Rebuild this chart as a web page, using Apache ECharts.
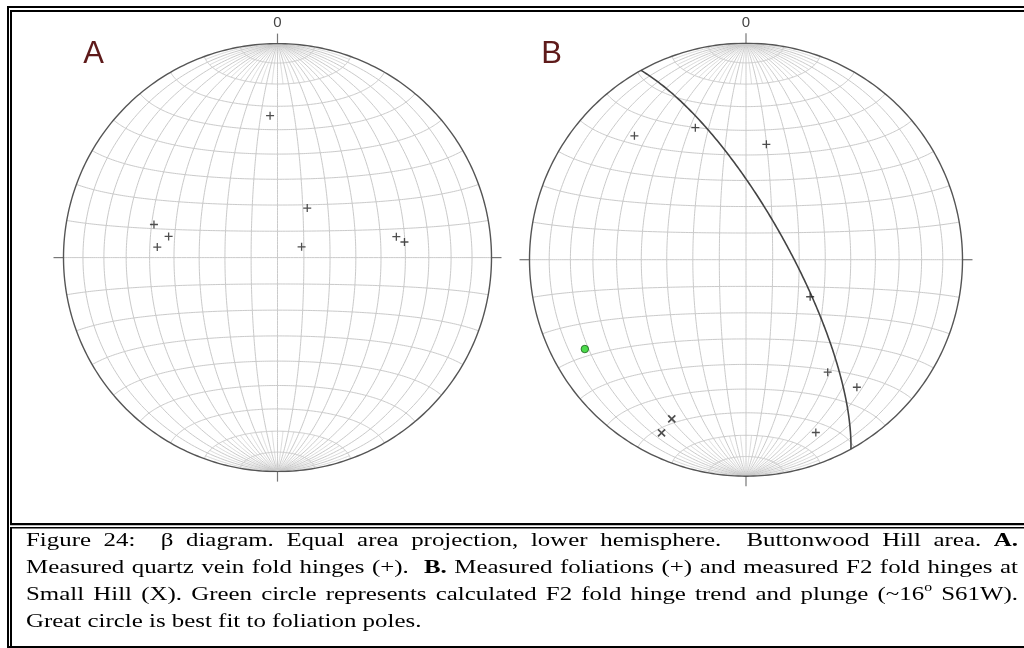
<!DOCTYPE html>
<html><head><meta charset="utf-8">
<script src="https://cdn.jsdelivr.net/npm/echarts@6/dist/echarts.min.js"></script>
<style>html,body{margin:0;padding:0;background:#fff}#c{width:1024px;height:648px}</style>
</head><body><div id="c"></div>
<script>
// ---- DATA (trend, plunge in degrees; lower hemisphere) ----
const hingesA = [[357,34],[31,68],[285,40],[281,47],[275,43],[66,80],[80,43],[83,40]];
const foliationPolesB = [[318,24],[339,35],[10,45],[120,62],[144,36],[139,23],[158,15]];
const smallHillHingesB = [[205,20],[206,12]];
const calcHingeB = [[241,16]];          // ~16° S61W
const northLabels = ['0','0'];
const panelLabels = ['A','B'];
const captionLines = [
  {j:true,  runs:[['Figure 24:  \u03b2 diagram. Equal area projection, lower hemisphere.  Buttonwood Hill area. ',0],['A.',1]]},
  {j:true,  runs:[['Measured quartz vein fold hinges (+).  ',0],['B.',1],[' Measured foliations (+) and measured F2 fold hinges at',0]]},
  {j:true,  runs:[['Small Hill (X). Green circle represents calculated F2 fold hinge trend and plunge (~16',0],['o',2],[' S61W).',0]]},
  {j:false, runs:[['Great circle is best fit to foliation poles.',0]]}
];

// ---- projection helpers (equal area, lower hemisphere) ----
const RAD = Math.PI/180;
function proj(tr, pl){
  const t=tr*RAD, p=pl*RAD;
  const E=Math.cos(p)*Math.sin(t), N=Math.cos(p)*Math.cos(t), D=Math.sin(p);
  const k=1/Math.sqrt(1+D); return [E*k, N*k];
}
function netPoint(lam, phi){
  const l=lam*RAD, f=phi*RAD;
  const X=Math.cos(f)*Math.sin(l), Y=Math.sin(f), Z=Math.cos(f)*Math.cos(l);
  const k=1/Math.sqrt(1+Z); return [X*k, Y*k];
}
function buildNet(){
  const L=[];
  for(let lam=-80; lam<=80; lam+=10){ const c=[]; for(let phi=-90; phi<=90; phi+=1) c.push(netPoint(lam,phi)); L.push(c); }
  for(let phi=-80; phi<=80; phi+=10){ const c=[]; for(let lam=-90; lam<=90; lam+=1) c.push(netPoint(lam,phi)); L.push(c); }
  return L;
}
function buildFan(){
  const L=[];
  for(let lam=-85; lam<=85; lam+=5){ if(lam%10===0) continue;
    const a=[], b=[]; for(let phi=70; phi<=90; phi+=0.5){ a.push(netPoint(lam,phi)); b.push(netPoint(lam,-phi)); } L.push(a); L.push(b); }
  return L;
}
function circle(){ const c=[]; for(let a=0;a<=360;a+=1) c.push([Math.cos(a*RAD), Math.sin(a*RAD)]); return c; }
function planeFromPole(tr,pl){ return [(tr+180)%360, 90-pl]; }
function planeCurve(dd, dip){
  const s=(dd-90)*RAD, d=dd*RAD, di=dip*RAD;
  const sv=[Math.sin(s),Math.cos(s),0], dv=[Math.cos(di)*Math.sin(d),Math.cos(di)*Math.cos(d),Math.sin(di)];
  const pts=[];
  for(let th=0; th<=180; th+=1){
    const c=Math.cos(th*RAD), sn=Math.sin(th*RAD);
    const v=[sv[0]*c+dv[0]*sn, sv[1]*c+dv[1]*sn, Math.max(0,sv[2]*c+dv[2]*sn)];
    const k=1/Math.sqrt(1+v[2]); pts.push([v[0]*k, v[1]*k]);
  }
  return pts;
}

const panels = [{cx:277.5, cy:257.6, R:214},{cx:746, cy:259.7, R:216.5}];
const net = buildNet();
const fan = buildFan();
const PLUS = 'path://M3.9,0h1.5v9.3h-1.5zM0,3.9h9.3v1.5h-9.3z';

const series = [];
panels.forEach((p,i)=>{
  series.push({type:'lines', coordinateSystem:'cartesian2d', xAxisIndex:i, yAxisIndex:i, polyline:true, silent:true, animation:false,
    lineStyle:{color:'#d2d2d2', width:0.8, opacity:1}, data: fan.map(c=>({coords:c})), z:1});
  series.push({type:'lines', coordinateSystem:'cartesian2d', xAxisIndex:i, yAxisIndex:i, polyline:true, silent:true, animation:false,
    lineStyle:{color:'#cacaca', width:1, opacity:1}, data: net.map(c=>({coords:c})), z:2});
  const t = 10/p.R;
  series.push({type:'lines', coordinateSystem:'cartesian2d', xAxisIndex:i, yAxisIndex:i, polyline:true, silent:true, animation:false, clip:false,
    lineStyle:{color:'#777', width:1.2, opacity:1},
    data:[{coords:[[0,1],[0,1+t]]},{coords:[[0,-1],[0,-1-t]]},{coords:[[-1,0],[-1-t,0]]},{coords:[[1,0],[1+t,0]]}], z:3});
  series.push({type:'lines', coordinateSystem:'cartesian2d', xAxisIndex:i, yAxisIndex:i, polyline:true, silent:true, animation:false,
    lineStyle:{color:'#555', width:1.4, opacity:1}, data:[{coords:circle()}], z:3});
});
series.push({type:'scatter', xAxisIndex:0, yAxisIndex:0, symbol:PLUS, symbolSize:8, itemStyle:{color:'#222'},
  data: hingesA.map(d=>proj(d[0],d[1])), z:5, animation:false});
const plane = planeFromPole(calcHingeB[0][0], calcHingeB[0][1]);
series.push({type:'lines', coordinateSystem:'cartesian2d', xAxisIndex:1, yAxisIndex:1, polyline:true, silent:true, animation:false,
  lineStyle:{color:'#444', width:1.6, opacity:1}, data:[{coords:planeCurve(plane[0],plane[1])}], z:4});
series.push({type:'scatter', xAxisIndex:1, yAxisIndex:1, symbol:PLUS, symbolSize:8, itemStyle:{color:'#222'},
  data: foliationPolesB.map(d=>proj(d[0],d[1])), z:5, animation:false});
series.push({type:'scatter', xAxisIndex:1, yAxisIndex:1, symbol:PLUS, symbolSize:10, symbolRotate:45, itemStyle:{color:'#222'},
  data: smallHillHingesB.map(d=>proj(d[0],d[1])), z:5, animation:false});
series.push({type:'scatter', xAxisIndex:1, yAxisIndex:1, symbol:'circle', symbolSize:7.5, itemStyle:{color:'#1fd21f', borderColor:'#1c5e1c', borderWidth:1},
  data: calcHingeB.map(d=>proj(d[0],d[1])), z:6, animation:false});

// ---- graphics: frame, labels, caption ----
const G = [];
function rect(x,y,w,h){ G.push({type:'rect', shape:{x:x,y:y,width:w,height:h}, style:{fill:'#000'}, silent:true}); }
rect(7,6,1017,2); rect(10,10,1014,2);
rect(7,6,2,642); rect(10,10,2,515);
rect(10,523,1014,2.3); rect(10,527,1014,1.6);
rect(10,527,2,121); rect(7,646,1017,2);

panels.forEach((p,i)=>{
  G.push({type:'text', x:p.cx, y:p.cy-p.R-20.5, style:{text:northLabels[i], font:'15px "Liberation Sans", Arial, sans-serif', fill:'#444', align:'center', verticalAlign:'middle'}});
});
G.push({type:'text', x:93.5, y:54, style:{text:panelLabels[0], font:'31px "Liberation Sans", Arial, sans-serif', fill:'#5e1a1a', align:'center', verticalAlign:'middle'}});
G.push({type:'text', x:551.7, y:54, style:{text:panelLabels[1], font:'31px "Liberation Sans", Arial, sans-serif', fill:'#5e1a1a', align:'center', verticalAlign:'middle'}});

const FS=19, SX=1.31, X0=26, X1=1018, BASE0=547, LH=27.2;
const FAM='"Liberation Serif","Times New Roman",serif';
const fonts=[FS+'px '+FAM, 'bold '+FS+'px '+FAM, '12px '+FAM];
const cv=document.createElement('canvas').getContext('2d');
function mw(t,f){ cv.font=f; return cv.measureText(t).width; }
captionLines.forEach((ln,li)=>{
  const items=[];
  ln.runs.forEach(r=>{
    let buf='';
    for(const ch of r[0]){
      if(ch===' '){ if(buf){items.push({t:buf,s:r[1]}); buf='';} items.push({sp:true}); }
      else buf+=ch;
    }
    if(buf) items.push({t:buf,s:r[1]});
  });
  let wsum=0, ns=0;
  items.forEach(it=>{ if(it.sp) ns++; else { it.w=mw(it.t,fonts[it.s]); wsum+=it.w; } });
  const spN = mw(' ',fonts[0]);
  const gap = ln.j ? ((X1-X0)/SX - wsum)/ns : spN;
  let u=0; const base=BASE0+li*LH;
  items.forEach(it=>{
    if(it.sp){ u+=gap; return; }
    const y = it.s===2 ? base-13.5 : base-6.4;
    G.push({type:'text', x:X0+u*SX, y:y, scaleX:SX, scaleY:1, originX:0, originY:0,
      style:{text:it.t, font:fonts[it.s], fill:'#000', align:'left', verticalAlign:'middle'}, silent:true});
    u+=it.w;
  });
});

const chart = echarts.init(document.getElementById('c'));
chart.setOption({
  animation:false,
  backgroundColor:'#fff',
  grid: panels.map(p=>({left:p.cx-p.R, top:p.cy-p.R, width:2*p.R, height:2*p.R})),
  xAxis: panels.map((p,i)=>({type:'value', gridIndex:i, min:-1, max:1, show:false})),
  yAxis: panels.map((p,i)=>({type:'value', gridIndex:i, min:-1, max:1, show:false})),
  series: series,
  graphic: G
});
</script></body></html>
